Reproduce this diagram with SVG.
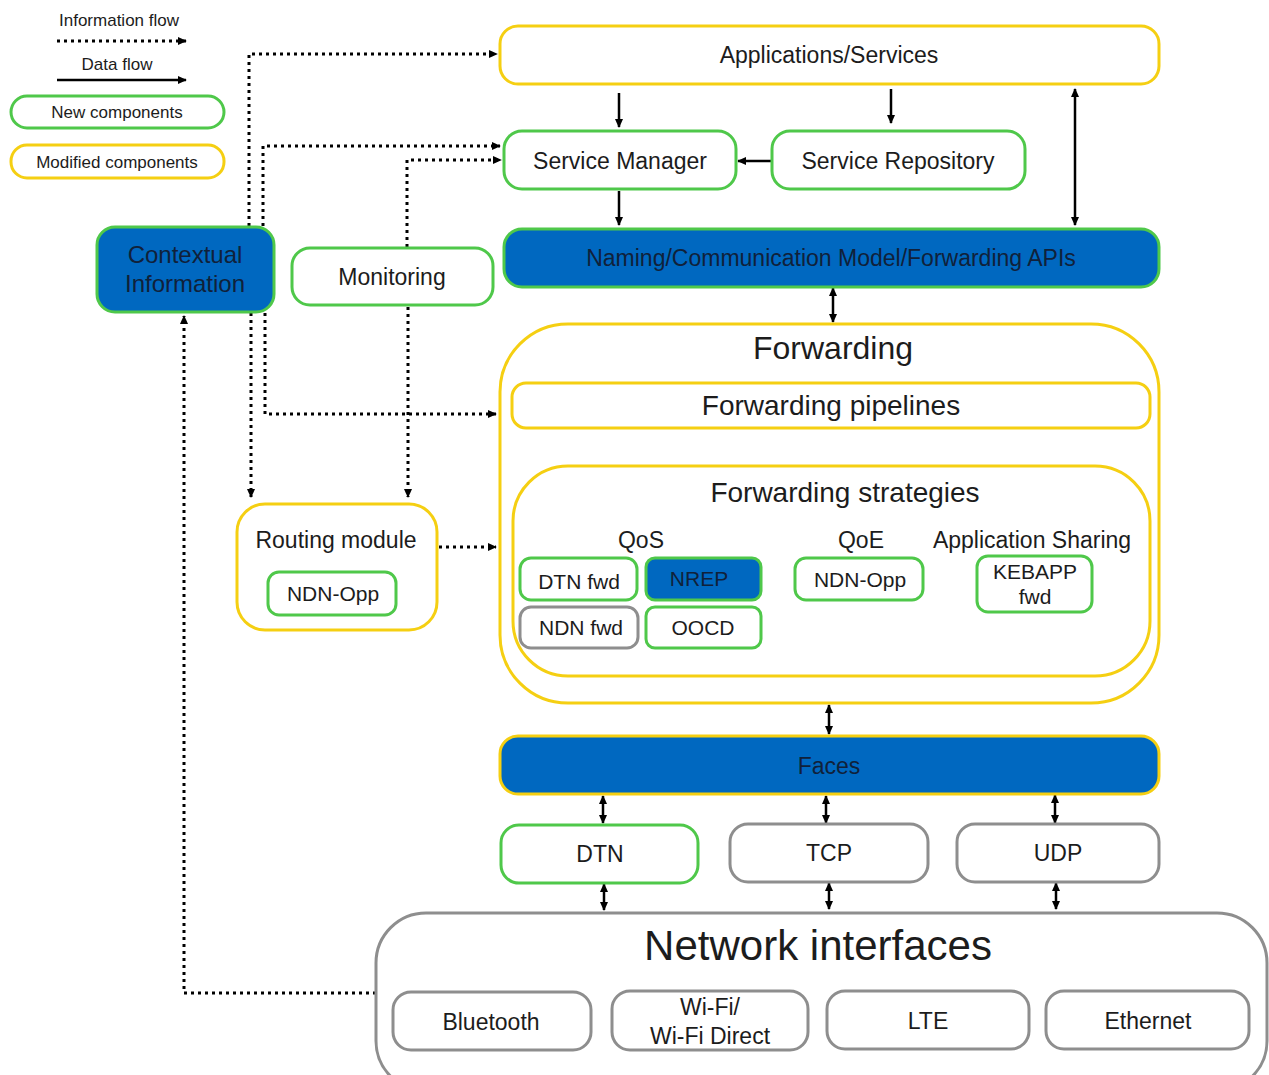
<svg xmlns="http://www.w3.org/2000/svg" width="1269" height="1075" viewBox="0 0 1269 1075">
<defs>
<marker id="ah" viewBox="0 0 10 10" refX="9" refY="5" markerWidth="9" markerHeight="9" markerUnits="userSpaceOnUse" orient="auto-start-reverse">
<path d="M0,0.5 L10,5 L0,9.5 z" fill="#000"/>
</marker>
<style>
text{font-family:"Liberation Sans",Arial,sans-serif;fill:#1c1c1c;text-anchor:middle;dominant-baseline:central}
.y{fill:#fff;stroke:#F5CF12;stroke-width:3}
.g{fill:#fff;stroke:#4FC84A;stroke-width:3}
.gr{fill:#fff;stroke:#8E8E8E;stroke-width:3}
.bg{fill:#0068C0;stroke:#4FC84A;stroke-width:3}
.by{fill:#0068C0;stroke:#F5CF12;stroke-width:3}
.t23{font-size:23px}
.t21{font-size:21px}
.t17{font-size:17px}
.dot{fill:none;stroke:#000;stroke-width:3;stroke-dasharray:3 4}
.sol{fill:none;stroke:#000;stroke-width:2.5}
.blt{fill:#10213a}
</style>
</defs>
<rect width="1269" height="1075" fill="#fff"/>

<g id="legend">
<text x="119" y="20" class="t17">Information flow</text>
<path d="M57,41 H186" class="dot" marker-end="url(#ah)"/>
<text x="117" y="64" class="t17">Data flow</text>
<path d="M57,80 H186" class="sol" marker-end="url(#ah)"/>
<rect x="11" y="96" width="213" height="32" rx="16" class="g"/>
<text x="117" y="112" class="t17">New components</text>
<rect x="11" y="145" width="213" height="33" rx="16" class="y"/>
<text x="117" y="162" class="t17">Modified components</text>
</g>

<g id="connectors">
<path d="M619,93 V127" class="sol" marker-end="url(#ah)"/>
<path d="M891,89 V123" class="sol" marker-end="url(#ah)"/>
<path d="M771,161 H738" class="sol" marker-end="url(#ah)"/>
<path d="M619,191 V225" class="sol" marker-end="url(#ah)"/>
<path d="M1075,89 V225" class="sol" marker-start="url(#ah)" marker-end="url(#ah)"/>
<path d="M833,288 V322" class="sol" marker-start="url(#ah)" marker-end="url(#ah)"/>
<path d="M833,430 V463" class="sol" marker-end="url(#ah)"/>
<path d="M829,705 V734" class="sol" marker-start="url(#ah)" marker-end="url(#ah)"/>
<path d="M603,796 V823" class="sol" marker-start="url(#ah)" marker-end="url(#ah)"/>
<path d="M826,796 V823" class="sol" marker-start="url(#ah)" marker-end="url(#ah)"/>
<path d="M1055,795 V823" class="sol" marker-start="url(#ah)" marker-end="url(#ah)"/>
<path d="M604,884 V910" class="sol" marker-start="url(#ah)" marker-end="url(#ah)"/>
<path d="M829,883 V909" class="sol" marker-start="url(#ah)" marker-end="url(#ah)"/>
<path d="M1056,883 V909" class="sol" marker-start="url(#ah)" marker-end="url(#ah)"/>

<path d="M249,226 V54 H497" class="dot" marker-end="url(#ah)"/>
<path d="M263,226 V146 H500" class="dot" marker-end="url(#ah)"/>
<path d="M407,247 V160 H501" class="dot" marker-end="url(#ah)"/>
<path d="M251,313 V497" class="dot" marker-end="url(#ah)"/>
<path d="M265,313 V414 H496" class="dot" marker-end="url(#ah)"/>
<path d="M408,307 V497" class="dot" marker-end="url(#ah)"/>
<path d="M439,547 H496" class="dot" marker-end="url(#ah)"/>
<path d="M376,993 H184 V316" class="dot" marker-end="url(#ah)"/>
</g>

<g id="applications">
<rect x="500" y="26" width="659" height="58" rx="18" class="y"/>
<text x="829" y="55" class="t23">Applications/Services</text>
</g>
<g id="service-manager">
<rect x="504" y="131" width="232" height="58" rx="18" class="g"/>
<text x="620" y="161" class="t23">Service Manager</text>
</g>
<g id="service-repository">
<rect x="772" y="131" width="253" height="58" rx="18" class="g"/>
<text x="898" y="161" class="t23">Service Repository</text>
</g>
<g id="apis">
<rect x="504" y="229" width="655" height="58" rx="18" class="bg"/>
<text x="831" y="258" class="t23 blt">Naming/Communication Model/Forwarding APIs</text>
</g>
<g id="contextual">
<rect x="97" y="227" width="177" height="85" rx="18" class="bg"/>
<text x="185" y="254" style="font-size:24px" class="blt">Contextual</text>
<text x="185" y="283" style="font-size:24px" class="blt">Information</text>
</g>
<g id="monitoring">
<rect x="292" y="248" width="201" height="57" rx="18" class="g"/>
<text x="392" y="277" class="t23">Monitoring</text>
</g>

<g id="forwarding">
<rect x="500" y="324" width="659" height="379" rx="68" class="y"/>
<text x="833" y="348" style="font-size:32px">Forwarding</text>
</g>
<g id="pipelines">
<rect x="512" y="383" width="638" height="45" rx="14" class="y"/>
<text x="831" y="405" style="font-size:28px">Forwarding pipelines</text>
</g>
<g id="strategies">
<rect x="513" y="466" width="637" height="210" rx="55" class="y"/>
<text x="845" y="492" style="font-size:28px">Forwarding strategies</text>
<text x="641" y="540" class="t23">QoS</text>
<text x="861" y="540" class="t23">QoE</text>
<text x="1032" y="540" class="t23">Application Sharing</text>
</g>
<g id="dtn-fwd">
<rect x="520" y="558" width="117" height="42" rx="11" class="g"/>
<text x="579" y="581" class="t21">DTN fwd</text>
</g>
<g id="nrep">
<rect x="646" y="558" width="115" height="42" rx="9" class="bg"/>
<text x="699" y="578" class="t21 blt">NREP</text>
</g>
<g id="ndn-fwd">
<rect x="520" y="607" width="118" height="41" rx="11" class="gr"/>
<text x="581" y="627" class="t21">NDN fwd</text>
</g>
<g id="oocd">
<rect x="646" y="607" width="115" height="41" rx="9" class="g"/>
<text x="703" y="627" class="t21">OOCD</text>
</g>
<g id="ndn-opp-qoe">
<rect x="795" y="558" width="128" height="42" rx="11" class="g"/>
<text x="860" y="579" class="t21">NDN-Opp</text>
</g>
<g id="kebapp">
<rect x="977" y="556" width="115" height="56" rx="11" class="g"/>
<text x="1035" y="571" class="t21">KEBAPP</text>
<text x="1035" y="596" class="t21">fwd</text>
</g>

<g id="routing">
<rect x="237" y="504" width="200" height="126" rx="28" class="y"/>
<text x="336" y="540" class="t23">Routing module</text>
</g>
<g id="ndn-opp-routing">
<rect x="268" y="572" width="128" height="43" rx="11" class="g"/>
<text x="333" y="593" class="t21">NDN-Opp</text>
</g>

<g id="faces">
<rect x="500" y="736" width="659" height="58" rx="18" class="by"/>
<text x="829" y="766" class="t23 blt">Faces</text>
</g>
<g id="dtn">
<rect x="501" y="825" width="197" height="58" rx="18" class="g"/>
<text x="600" y="854" class="t23">DTN</text>
</g>
<g id="tcp">
<rect x="730" y="824" width="198" height="58" rx="18" class="gr"/>
<text x="829" y="853" class="t23">TCP</text>
</g>
<g id="udp">
<rect x="957" y="824" width="202" height="58" rx="18" class="gr"/>
<text x="1058" y="853" class="t23">UDP</text>
</g>

<g id="network-interfaces">
<rect x="376" y="913" width="891" height="178" rx="50" class="gr"/>
<text x="818" y="945" style="font-size:42px">Network interfaces</text>
</g>
<g id="bluetooth">
<rect x="393" y="992" width="198" height="58" rx="18" class="gr"/>
<text x="491" y="1022" class="t23">Bluetooth</text>
</g>
<g id="wifi">
<rect x="612" y="991" width="196" height="59" rx="18" class="gr"/>
<text x="710" y="1007" class="t23">Wi-Fi/</text>
<text x="710" y="1036" class="t23">Wi-Fi Direct</text>
</g>
<g id="lte">
<rect x="827" y="991" width="202" height="58" rx="18" class="gr"/>
<text x="928" y="1021" class="t23">LTE</text>
</g>
<g id="ethernet">
<rect x="1046" y="991" width="203" height="58" rx="18" class="gr"/>
<text x="1148" y="1021" class="t23">Ethernet</text>
</g>
</svg>
